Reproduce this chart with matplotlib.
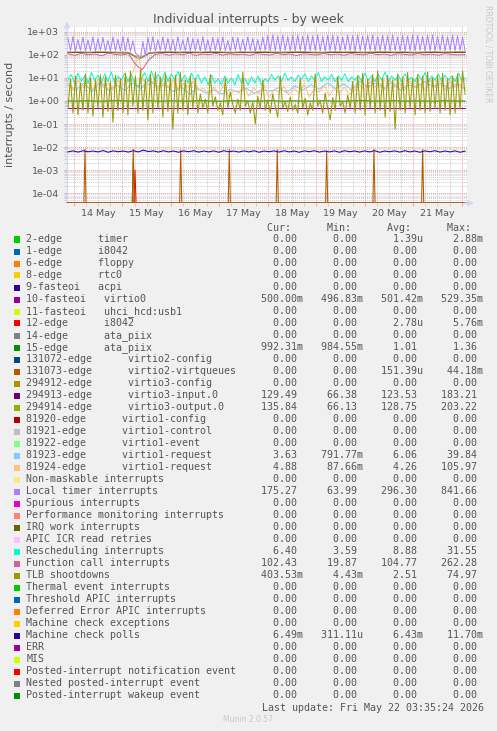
import numpy as np
import matplotlib
matplotlib.use("Agg")
from matplotlib import pyplot as plt
from matplotlib.patches import Rectangle
from matplotlib.ticker import FixedLocator, FuncFormatter

W, H = 497, 731

def fx(px):
    return px / W

def fy(py):
    return 1 - py / H

# time axis: days since 13 May 00:00
x_start, x_end = 0.856, 9.11
y_min, y_max = 3.8e-5, 1600

names = [
    "2-edge      timer", "1-edge      i8042", "6-edge      floppy", "8-edge      rtc0",
    "9-fasteoi   acpi", "10-fasteoi   virtio0", "11-fasteoi   uhci_hcd:usb1",
    "12-edge      i8042", "14-edge      ata_piix", "15-edge      ata_piix",
    "131072-edge      virtio2-config", "131073-edge      virtio2-virtqueues",
    "294912-edge      virtio3-config", "294913-edge      virtio3-input.0",
    "294914-edge      virtio3-output.0", "81920-edge      virtio1-config",
    "81921-edge      virtio1-control", "81922-edge      virtio1-event",
    "81923-edge      virtio1-request", "81924-edge      virtio1-request",
    "Non-maskable interrupts", "Local timer interrupts", "Spurious interrupts",
    "Performance monitoring interrupts", "IRQ work interrupts", "APIC ICR read retries",
    "Rescheduling interrupts", "Function call interrupts", "TLB shootdowns",
    "Thermal event interrupts", "Threshold APIC interrupts", "Deferred Error APIC interrupts",
    "Machine check exceptions", "Machine check polls", "ERR", "MIS",
    "Posted-interrupt notification event", "Nested posted-interrupt event",
    "Posted-interrupt wakeup event",
]

colors = [
    "#00CC00", "#0066B3", "#FF8000", "#FFCC00", "#330099", "#990099", "#CCFF00",
    "#FF0000", "#808080", "#008F00", "#00487D", "#B35A00", "#B38F00", "#6B006B",
    "#8FB300", "#B30000", "#BEBEBE", "#80FF80", "#80C9FF", "#FFC080", "#FFE680",
    "#AA80FF", "#EE00CC", "#FF8080", "#666600", "#FFBFFF", "#00FFCC", "#CC6699",
    "#999900", "#00CC00", "#0066B3", "#FF8000", "#FFCC00", "#330099", "#990099",
    "#CCFF00", "#FF0000", "#808080", "#008F00",
]

cur_vals = ["0.00", "0.00", "0.00", "0.00", "0.00", "500.00m", "0.00", "0.00", "0.00", "992.31m",
            "0.00", "0.00", "0.00", "129.49", "135.84", "0.00", "0.00", "0.00", "3.63", "4.88",
            "0.00", "175.27", "0.00", "0.00", "0.00", "0.00", "6.40", "102.43", "403.53m",
            "0.00", "0.00", "0.00", "0.00", "6.49m", "0.00", "0.00", "0.00", "0.00", "0.00"]
min_vals = ["0.00", "0.00", "0.00", "0.00", "0.00", "496.83m", "0.00", "0.00", "0.00", "984.55m",
            "0.00", "0.00", "0.00", "66.38", "66.13", "0.00", "0.00", "0.00", "791.77m", "87.66m",
            "0.00", "63.99", "0.00", "0.00", "0.00", "0.00", "3.59", "19.87", "4.43m",
            "0.00", "0.00", "0.00", "0.00", "311.11u", "0.00", "0.00", "0.00", "0.00", "0.00"]
avg_vals = ["1.39u", "0.00", "0.00", "0.00", "0.00", "501.42m", "0.00", "2.78u", "0.00", "1.01",
            "0.00", "151.39u", "0.00", "123.53", "128.75", "0.00", "0.00", "0.00", "6.06", "4.26",
            "0.00", "296.30", "0.00", "0.00", "0.00", "0.00", "8.88", "104.77", "2.51",
            "0.00", "0.00", "0.00", "0.00", "6.43m", "0.00", "0.00", "0.00", "0.00", "0.00"]
max_vals = ["2.88m", "0.00", "0.00", "0.00", "0.00", "529.35m", "0.00", "5.76m", "0.00", "1.36",
            "0.00", "44.18m", "0.00", "183.21", "203.22", "0.00", "0.00", "0.00", "39.84", "105.97",
            "0.00", "841.66", "0.00", "0.00", "0.00", "0.00", "31.55", "262.28", "74.97",
            "0.00", "0.00", "0.00", "0.00", "11.70m", "0.00", "0.00", "0.00", "0.00", "0.00"]

# series
timer_peaks = [520, 610, 450, 580, 430, 600, 500, 560, 420, 590, 470, 610, 540, 400, 95, 380,
               560, 610, 450, 590, 520, 470, 600, 440, 580, 520, 490, 610, 450, 570, 530, 600,
               420, 580, 560, 470, 600, 520, 450, 590, 680, 720, 650, 700, 610, 690, 720, 640,
               700, 660, 710, 620, 690, 720, 650, 600, 700, 680, 720, 640, 690, 710, 620, 700,
               660, 720, 600, 690, 650, 710, 680, 620, 700, 720, 640, 690, 610, 700, 660, 580]
timer_troughs = [150, 145, 155, 148, 152, 140, 158, 150, 145, 155, 148, 150, 142, 120, 70, 90,
                 150, 146, 156, 149, 152, 144, 157, 150, 146, 154, 148, 151, 143, 155, 149, 152,
                 145, 156, 150, 147, 153, 144, 150, 155, 148, 152, 145, 156, 150, 147, 154, 146,
                 151, 155, 149, 145, 153, 150, 147, 156, 150, 144, 152, 149, 155, 146, 151, 150,
                 147, 154, 149, 145, 152, 150, 156, 146, 151, 148, 154, 147, 152, 149, 155, 150]
function_call = [110, 95, 115, 100, 108, 92, 118, 104, 98, 112, 40, 22, 60, 105, 112, 96, 110,
                 100, 118, 94, 108, 102, 115, 97, 110, 100, 106, 95, 112, 104, 98, 116, 102, 108,
                 93, 110, 104, 98, 115, 100, 108, 96, 112, 104, 99, 117, 101, 108, 95, 111, 104,
                 98, 114, 100, 107, 96, 112, 103, 99, 102]
virtio3_output = [132, 134, 131, 135, 133, 130, 128, 66, 125, 133, 135, 132, 134, 131, 136, 133,
                  130, 134, 132, 135, 133, 131, 134, 136, 132, 130, 135, 133, 134, 131, 133, 136,
                  132, 134, 130, 133, 135, 132, 134, 136]
virtio3_input = [124, 126, 123, 127, 125, 122, 120, 67, 118, 125, 127, 124, 126, 123, 128, 125,
                 122, 126, 124, 127, 125, 123, 126, 128, 124, 122, 127, 125, 126, 123, 125, 128,
                 124, 126, 122, 125, 127, 124, 126, 128]
rescheduling = [8, 14, 6, 16, 7, 12, 6, 17, 8, 13, 6, 15, 7, 18, 6, 12, 8, 16, 7, 14,
                6, 4, 9, 17, 7, 20, 8, 14, 6, 18, 7, 15, 8, 19, 7, 13, 6, 16, 8, 14,
                6, 11, 5, 13, 6, 9, 5, 12, 6, 10, 5, 14, 6, 9, 5, 11, 6, 12, 5, 9,
                7, 14, 8, 12, 7, 16, 8, 11, 7, 13, 9, 15, 7, 12, 8, 17, 7, 11, 8, 14,
                7, 12, 8, 15, 7, 11, 8, 13, 7, 16, 8, 12, 7, 14, 8, 18, 7, 12, 8, 13,
                7, 15, 8, 11, 7, 14, 8, 17, 7, 12, 8, 15, 7, 13, 8, 12, 7, 16, 8, 10]
virtio1_req_a = [5, 3, 6, 2.5, 7, 3, 5, 2.8, 6, 3.5, 8, 4, 5, 2.5, 4, 2, 3.5, 2.2, 3, 2, 3.2,
                 2.4, 3.6, 2.1, 3.1, 2.6, 3.8, 2.3, 4.5, 3, 5, 3.2, 6, 3.5, 5.5, 3, 7, 4, 6, 3.5,
                 6.5, 3, 5, 3.8, 7, 4.2, 6, 3.4, 5.5, 3.6]
virtio1_req_b = [6, 3, 8, 4, 7, 3, 9, 4, 6, 3, 8, 5, 7, 20, 100, 8, 5, 7, 3, 6, 4, 8, 3, 6, 4, 7, 3,
                 3.5, 1.8, 4, 2, 5, 1.5, 3, 2.2, 4.5, 1.6, 3.8, 2, 5, 1.4, 3, 2.5, 4.2, 1.8, 3.5,
                 2.1, 5.5, 1.5, 3.2, 2.4, 4.8, 1.7, 3.6, 2.2, 4, 1.9, 3,
                 5, 3, 7, 4, 6, 3, 8, 4, 6, 3, 7, 4, 5, 3, 8, 4, 6, 3, 7, 4, 5, 3]
tlb = [0.5, 9, 0.3, 12, 0.25, 6, 0.4, 15, 0.3, 10, 0.22, 8, 0.5, 14, 0.2, 11, 0.35, 7, 0.12, 13,
       0.4, 9, 0.3, 16, 0.25, 20, 0.6, 12, 0.3, 22, 0.4, 9, 0.15, 14, 0.3, 18, 0.5, 11, 0.2, 15,
       0.35, 10, 0.06, 13, 0.3, 17, 0.4, 8, 0.25, 12, 0.5, 9, 0.3,
       2, 0.5, 1.2, 0.3, 14, 0.6, 1.5, 0.4, 0.8, 0.25, 10, 0.5, 2.5, 0.7, 0.3, 1.2, 0.4, 18, 0.6,
       1.0, 0.3, 0.9, 0.1, 1.6, 0.5, 8, 0.4, 1.1, 0.3, 2.0, 0.6, 0.2, 12, 0.5, 0.9, 0.35, 1.5,
       0.4, 0.7, 0.3, 9, 0.5, 1.3, 0.25, 0.8, 0.4, 15, 0.6, 1.0, 0.3, 2.2, 0.5, 0.15, 1.4, 0.4,
       11, 0.6, 0.9, 0.3, 1.8, 0.5,
       7, 0.3, 12, 0.4, 16, 0.25, 9, 0.5, 14, 0.3, 20, 0.4, 10, 0.2, 13, 0.35, 8, 0.06, 15, 0.4,
       11, 0.3, 17, 0.5, 9, 0.25, 14, 0.4, 12, 0.3, 18, 0.35, 10, 0.5, 13, 0.3, 16, 0.4, 9, 0.25,
       12, 0.3, 15, 0.45, 20, 2]
ata_piix_15 = [1.0, 0.99, 1.02, 0.98, 1.01, 1.03, 0.99, 1.0, 1.02, 0.98, 1.01, 1.0, 0.99, 1.03,
               1.0, 0.98, 1.02, 1.01, 0.99, 1.0, 1.03, 0.98, 1.01, 1.0, 0.99, 1.02, 1.0, 0.98,
               1.01, 1.03, 0.99, 1.0, 1.02, 0.99, 1.01, 1.0, 0.98, 1.02, 1.0, 0.99]
virtio0 = [0.5, 0.5, 0.5, 0.5, 0.5, 0.5, 0.5, 0.5]
mc_polls = [6.2e-3, 6.9e-3, 6.1e-3, 7.0e-3, 6.3e-3, 6.8e-3, 6.2e-3, 7.1e-3, 6.0e-3, 6.9e-3,
            6.3e-3, 6.8e-3, 6.1e-3, 7.0e-3, 6.2e-3, 7.4e-3, 6.4e-3, 6.9e-3, 6.1e-3, 7.0e-3,
            6.2e-3, 6.8e-3, 6.0e-3, 6.9e-3, 6.3e-3, 7.0e-3, 6.1e-3, 6.8e-3, 6.2e-3, 6.9e-3,
            6.0e-3, 7.0e-3, 6.3e-3, 6.8e-3, 6.1e-3, 6.9e-3, 6.2e-3, 7.0e-3, 6.0e-3, 6.8e-3,
            6.3e-3, 6.9e-3, 6.1e-3, 7.0e-3, 6.2e-3, 6.8e-3, 6.0e-3, 6.9e-3, 6.3e-3, 7.0e-3,
            6.1e-3, 6.8e-3, 6.2e-3, 6.9e-3, 6.0e-3, 7.0e-3, 6.3e-3, 6.8e-3, 6.1e-3, 6.9e-3,
            6.2e-3, 7.0e-3, 6.0e-3, 6.8e-3, 6.3e-3, 6.9e-3, 6.1e-3, 7.0e-3, 6.2e-3, 6.8e-3,
            6.0e-3, 6.9e-3, 6.3e-3, 7.0e-3, 6.1e-3, 6.8e-3, 6.2e-3, 6.9e-3, 6.0e-3, 6.7e-3]
virtio2_spike_days = [1.227, 2.224, 3.202, 4.205, 5.195, 6.214, 7.19, 8.195]
virtio2_spike_vals = [8e-3, 8e-3, 7.5e-3, 8e-3, 7.8e-3, 7e-3, 8e-3, 7.8e-3]
i8042_spike_days = [2.259]
i8042_spike_vals = [1e-3]
timer_spike_days = [2.224]
timer_spike_vals = [2.9e-3]


def spread(vals):
    return np.linspace(x_start + 0.02, x_end - 0.04, len(vals)), np.array(vals, float)


def spikes(days, vals, half=0.022):
    t, v = [x_start], [0.0]
    for d, h in zip(days, vals):
        t += [d - half, d, d + half]
        v += [0.0, h, 0.0]
    t.append(x_end)
    v.append(0.0)
    return np.array(t), np.array(v)


timer_series = [v for pair in zip(timer_peaks, timer_troughs) for v in pair]

series = {
    0: spikes(timer_spike_days, timer_spike_vals),
    5: spread(virtio0),
    7: spikes(i8042_spike_days, i8042_spike_vals),
    9: spread(ata_piix_15),
    11: spikes(virtio2_spike_days, virtio2_spike_vals),
    13: spread(virtio3_input),
    14: spread(virtio3_output),
    18: spread(virtio1_req_a),
    19: spread(virtio1_req_b),
    21: spread(timer_series),
    26: spread(rescheduling),
    27: spread(function_call),
    28: spread(tlb),
    33: spread(mc_polls),
}

fig = plt.figure(figsize=(W / 100, H / 100), dpi=100, facecolor="#F0F0F0")
ax = fig.add_axes([fx(67), fy(203), fx(467) - fx(67), fy(27) - fy(203)])
ax.set_facecolor("#FFFFFF")
ax.set_yscale("log")
ax.set_xlim(x_start, x_end)
ax.set_ylim(y_min, y_max)

for i in range(len(names)):
    if i in series:
        t, v = series[i]
    else:
        t, v = np.array([x_start, x_end]), np.array([0.0, 0.0])
    ax.plot(t, np.maximum(v, y_min), color=colors[i], lw=0.75, zorder=2 + i * 0.01)

# grid and ticks
ax.xaxis.set_major_locator(FixedLocator(np.arange(1, 9.5, 1)))
ax.xaxis.set_minor_locator(FixedLocator(np.arange(1, 9.11, 0.25)))
ax.xaxis.set_major_formatter(FuncFormatter(lambda d, p: ""))
ax.xaxis.set_minor_formatter(FuncFormatter(
    lambda d, p: f"{int(d) + 13} May" if abs(d % 1 - 0.5) < 1e-6 else ""))

decades = [1e-4, 1e-3, 1e-2, 1e-1, 1e0, 1e1, 1e2, 1e3]
ax.yaxis.set_major_locator(FixedLocator(decades))
ax.yaxis.set_minor_locator(FixedLocator([k * d for d in [1e-5] + decades for k in range(2, 10)]))
ax.yaxis.set_major_formatter(FuncFormatter(lambda v, p: f"{v:.0e}"))
ax.yaxis.set_minor_formatter(FuncFormatter(lambda v, p: ""))

ax.grid(True, which="major", color="#F0A0A0", linestyle=(0, (1, 1)), linewidth=0.7)
ax.grid(True, which="minor", color="#CFCFCF", linestyle=(0, (1, 1)), linewidth=0.7)
ax.set_axisbelow(True)

ax.tick_params(which="both", direction="out", length=2, width=0.7,
               labelsize=6.8, labelcolor="#555555")
ax.tick_params(which="major", color="#F0A0A0")
ax.tick_params(which="minor", color="#CFCFCF")
ax.tick_params(axis="x", which="minor", pad=2.5)
ax.tick_params(axis="y", which="major", pad=3.5)

for s in ax.spines.values():
    s.set_visible(False)
ax.plot([0, 0], [0, 1], transform=ax.transAxes, color="#CFD6F8", lw=0.8, clip_on=False, zorder=1)
ax.annotate("", xy=(0, 1.03), xytext=(0, 0.99), xycoords="axes fraction",
            arrowprops=dict(arrowstyle="-|>,head_length=0.35,head_width=0.18",
                            color="#CFD6F8", lw=0.8, shrinkA=0, shrinkB=0))
ax.annotate("", xy=(1.017, 0), xytext=(0.995, 0), xycoords="axes fraction",
            arrowprops=dict(arrowstyle="-|>,head_length=0.35,head_width=0.18",
                            color="#CFD6F8", lw=0.8, shrinkA=0, shrinkB=0))

fig.text(fx(248.5), fy(19), "Individual interrupts - by week", ha="center", va="center",
         fontsize=9, color="#555555")
fig.text(fx(10), fy(114.5), "interrupts / second", ha="center", va="center",
         rotation=90, fontsize=8, color="#555555")
fig.text(fx(488), fy(5), "RRDTOOL / TOBI OETIKER", ha="center", va="top",
         rotation=270, fontsize=5.5, color="#C8C8C8")

# legend table
mono = "DejaVu Sans Mono"
lfs = 7.2
tcol = "#555555"


def fmt(s):
    return s.rjust(7) if s[-1].isalpha() else s.rjust(6) + " "


fig.text(fx(266.7), fy(227.7), "Cur:      Min:      Avg:      Max:", family=mono,
         fontsize=lfs, color=tcol, va="center", ha="left")
for i, name in enumerate(names):
    yc = 239.5 + 12.0 * i
    fig.add_artist(Rectangle((fx(14), fy(yc + 3)), fx(6), 6 / H, transform=fig.transFigure,
                             facecolor=colors[i], edgecolor="none"))
    fig.text(fx(26.3), fy(yc), name, family=mono, fontsize=lfs, color=tcol,
             va="center", ha="left")
    row = f"{fmt(cur_vals[i])}   {fmt(min_vals[i])}   {fmt(avg_vals[i])}   {fmt(max_vals[i])}"
    fig.text(fx(260.7), fy(yc), row, family=mono, fontsize=lfs, color=tcol,
             va="center", ha="left")

fig.text(fx(261.7), fy(707.6), "Last update: Fri May 22 03:35:24 2026", family=mono,
         fontsize=lfs, color=tcol, va="center", ha="left")
fig.text(fx(248), fy(720), "Munin 2.0.57", ha="center", va="center", fontsize=5.5,
         color="#C8C8C8")

fig.savefig("out.png", dpi=100, facecolor=fig.get_facecolor())
